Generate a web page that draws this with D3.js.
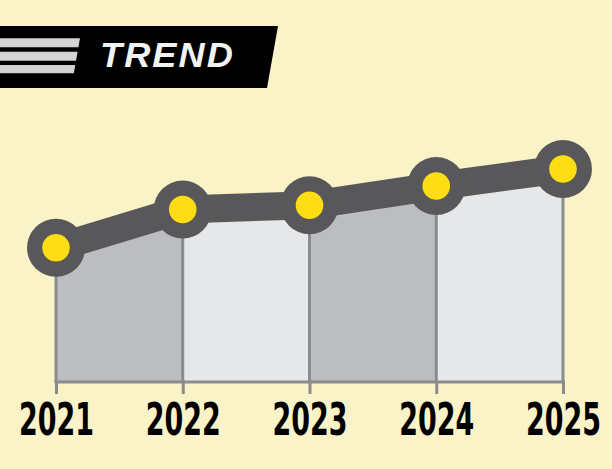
<!DOCTYPE html>
<html>
<head>
<meta charset="utf-8">
<script src="https://cdn.jsdelivr.net/npm/d3@7"></script>
<style>
  html, body { margin: 0; padding: 0; background: #faf3c8; }
  svg { display: block; }
</style>
</head>
<body>
<script>
const years = ["2021", "2022", "2023", "2024", "2025"];
const values = [63, 81, 83, 92, 100];
const title = "TREND";

const W = 612, H = 469;
const svg = d3.select("body").append("svg").attr("width", W).attr("height", H);
svg.append("rect").attr("width", W).attr("height", H).attr("fill", "#faf3c8");

const x = d3.scalePoint().domain(years).range([56, 563]);
const y = d3.scaleLinear().domain([0, 100]).range([382, 169]);
const data = years.map((yr, i) => ({ yr, v: values[i] }));

// header banner
const hdr = svg.append("g");
hdr.append("path").attr("d", "M0,26 L278,26 L267,88 L0,88 Z").attr("fill", "#000");
const slope = 11 / 62;
[[38.3, 47.3], [51.7, 60.7], [65, 73.3]].forEach(([t, b]) => {
  const xt = 80 - slope * (t - 38.3);
  const xb = 80 - slope * (b - 38.3);
  hdr.append("path").attr("d", `M0,${t} L${xt},${t} L${xb},${b} L0,${b} Z`).attr("fill", "#d1d3d4");
});
const tt = hdr.append("text").attr("x", 0).attr("y", 0)
  .attr("font-family", "'Liberation Sans', Arial, sans-serif")
  .attr("font-weight", "bold").attr("font-style", "italic")
  .attr("font-size", 35).attr("fill", "#f1f2f2")
  .attr("letter-spacing", 2)
  .text(title);
{
  const len = tt.node().getComputedTextLength();
  tt.attr("transform", `translate(100,66.7) scale(${135 / len},1)`);
}

// bands
const pairs = d3.pairs(data);
svg.append("g").selectAll("path").data(pairs).join("path")
  .attr("d", ([a, b]) => `M${x(a.yr)},${y(a.v)} L${x(b.yr)},${y(b.v)} L${x(b.yr)},${y(0)} L${x(a.yr)},${y(0)} Z`)
  .attr("fill", (d, i) => i % 2 === 0 ? "#bcbdc0" : "#e6e7e8");

// vertical lines
svg.append("g").selectAll("line").data(data).join("line")
  .attr("x1", d => x(d.yr)).attr("x2", d => x(d.yr))
  .attr("y1", d => y(d.v)).attr("y2", y(0))
  .attr("stroke", "#8a8b8d").attr("stroke-width", 3);

// axis
const axis = svg.append("g").attr("transform", `translate(0,${y(0)})`)
  .call(d3.axisBottom(x).tickSizeInner(12).tickSizeOuter(0).tickPadding(0));
axis.select(".domain").attr("stroke", "#8a8b8d").attr("stroke-width", 3)
  .attr("d", `M${x(years[0]) - 1.5},0H${x(years[years.length - 1]) + 1.5}`);
axis.selectAll(".tick line").attr("stroke", "#8a8b8d").attr("stroke-width", 3).attr("y1", -1.5);
axis.selectAll(".tick text")
  .attr("y", 0).attr("dy", null)
  .attr("font-family", "'DejaVu Sans Condensed', 'DejaVu Sans', sans-serif")
  .attr("font-weight", "bold").attr("font-size", 45).attr("fill", "#000")
  .each(function () {
    const len = this.getComputedTextLength();
    d3.select(this).attr("transform", `translate(0,53) scale(${75 / len},1)`);
  });

// line
svg.append("path").datum(data)
  .attr("d", d3.line().x(d => x(d.yr)).y(d => y(d.v)))
  .attr("fill", "none").attr("stroke", "#58585a").attr("stroke-width", 28);

// markers
svg.append("g").selectAll("circle").data(data).join("circle")
  .attr("cx", d => x(d.yr)).attr("cy", d => y(d.v)).attr("r", 29).attr("fill", "#58585a");
svg.append("g").selectAll("circle").data(data).join("circle")
  .attr("cx", d => x(d.yr)).attr("cy", d => y(d.v)).attr("r", 13.8).attr("fill", "#fedd15");
</script>
</body>
</html>
